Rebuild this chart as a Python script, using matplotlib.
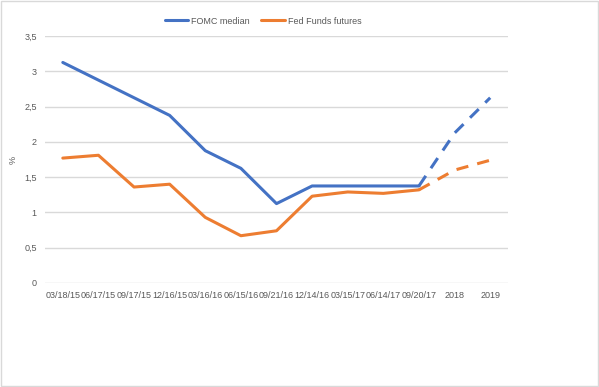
import matplotlib
matplotlib.use("Agg")
import matplotlib.pyplot as plt
from matplotlib.patches import Rectangle
from matplotlib import font_manager

categories = ["03/18/15", "06/17/15", "09/17/15", "12/16/15", "03/16/16", "06/15/16",
              "09/21/16", "12/14/16", "03/15/17", "06/14/17", "09/20/17", "2018", "2019"]
fomc = [3.125, 2.875, 2.625, 2.375, 1.875, 1.625, 1.125, 1.375, 1.375, 1.375, 1.375, 2.125, 2.625]
futures = [1.77, 1.81, 1.36, 1.40, 0.93, 0.67, 0.74, 1.23, 1.29, 1.27, 1.32, 1.60, 1.74]
yticks = [0, 0.5, 1, 1.5, 2, 2.5, 3, 3.5]
ytick_labels = ["0", "0,5", "1", "1,5", "2", "2,5", "3", "3,5"]
split = 10  # last solid index (09/20/17)

blue = "#4472C4"
orange = "#ED7D31"
grey_text = "#595959"

names = {f.name for f in font_manager.fontManager.ttflist}
fam = 'Liberation Sans Narrow' if 'Liberation Sans Narrow' in names else 'Liberation Sans'
fs = 7.5 if fam == 'Liberation Sans Narrow' else 6.5
plt.rcParams['font.family'] = [fam, 'DejaVu Sans']

fig = plt.figure(figsize=(5.99, 3.87), dpi=100)
ax = fig.add_axes([45/599, 1-283/387, (508-45)/599, (283-36)/387])

x = list(range(len(categories)))
ax.plot(x[:split+1], fomc[:split+1], color=blue, lw=2.2, solid_capstyle='round', label="FOMC median", zorder=3)
ax.plot(x[split:], fomc[split:], color=blue, lw=2.2, ls=(0, (4, 3)), zorder=3)
ax.plot(x[:split+1], futures[:split+1], color=orange, lw=2.2, solid_capstyle='round', label="Fed Funds futures", zorder=3)
ax.plot(x[split:], futures[split:], color=orange, lw=2.2, ls=(0, (4, 3)), zorder=3)

ax.set_xlim(-0.5, len(categories)-0.5)
ax.set_ylim(0, 3.5)
ax.set_yticks(yticks)
ax.set_yticklabels(ytick_labels)
ax.set_xticks(x)
ax.set_xticklabels(categories)
ax.tick_params(axis='both', length=0, labelsize=fs, labelcolor=grey_text)
ax.tick_params(axis='y', pad=6)
ax.tick_params(axis='x', pad=6)
ax.grid(axis='y', color="#D9D9D9", lw=1)
ax.set_axisbelow(True)
for s in ax.spines.values():
    s.set_visible(False)
ax.set_ylabel("%", fontsize=fs, color=grey_text)
ax.yaxis.set_label_coords(-27/463, 0.5)

ax.legend(loc='upper center', bbox_to_anchor=(263/599, 1-13/387), bbox_transform=fig.transFigure,
          ncol=2, frameon=False, fontsize=fs, handlelength=2.6, columnspacing=1.3,
          handletextpad=0.3, labelcolor=grey_text, borderaxespad=0)

fig.patches.append(Rectangle((0.002, 0.003), 0.996, 0.994, transform=fig.transFigure,
                             fill=False, edgecolor="#D9D9D9", lw=1))

fig.savefig("out.png", dpi=100)
